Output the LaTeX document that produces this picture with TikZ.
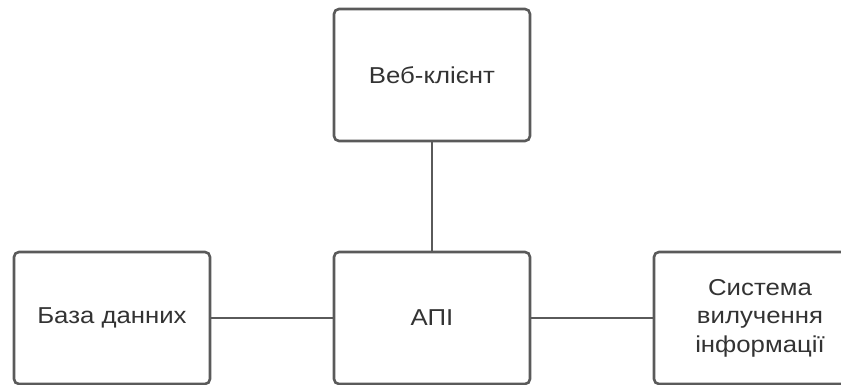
\documentclass[tikz,border=0pt]{standalone}
\usepackage{fontspec}
\setmainfont{Liberation Sans}[FakeStretch=1.12]
\definecolor{edgegray}{HTML}{5A5A5A}
\definecolor{textgray}{HTML}{333333}
\begin{document}
\begin{tikzpicture}[x=1pt,y=1pt,
  box/.style={draw=edgegray, line width=2.6pt, rounded corners=5pt, fill=white,
    minimum width=196pt, minimum height=132pt, inner sep=0pt,
    text=textgray, font=\fontsize{23}{28.5}\selectfont, align=center},
  link/.style={draw=edgegray, line width=1.6pt}]
\useasboundingbox (0,0) rectangle (841,384);
\begin{scope}
\clip (0,0) rectangle (841,384);
\node[box] (web) at (432,309) {Веб-клієнт};
\node[box] (db) at (112,66) {База данних};
\node[box] (api) at (432,66) {АПІ};
\node[box, minimum width=212pt] (sys) at (760,66) {Система\\вилучення\\інформації};
\draw[link] (web.south) -- (api.north);
\draw[link] (db.east) -- (api.west);
\draw[link] (api.east) -- (sys.west);
\end{scope}
\end{tikzpicture}
\end{document}
